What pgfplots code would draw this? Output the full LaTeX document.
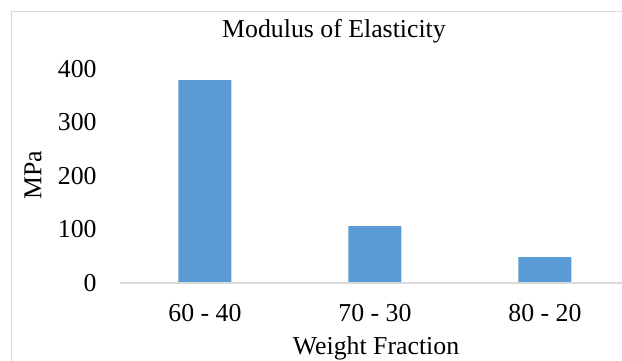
\documentclass[border=0pt]{standalone}
\usepackage{fontspec}
\setmainfont{Liberation Serif}
\usepackage{pgfplots}
\pgfplotsset{compat=1.18}
\definecolor{barblue}{HTML}{5B9BD5}
\definecolor{gridgray}{HTML}{D9D9D9}
\newcommand{\chartfont}{\fontsize{12.9}{15}\selectfont}
\begin{document}
\chartfont
\begin{tikzpicture}
  \useasboundingbox (0,0) rectangle (311pt,180pt);
  \clip (0,0) rectangle (311pt,180pt);
  % chart frame
  \draw[gridgray, line width=0.5pt] (5.75pt,174.25pt) rectangle (330pt,-20pt);
  \begin{axis}[
    at={(60pt,38.5pt)}, anchor=south west,
    scale only axis, width=255pt, height=107pt,
    xmin=-0.5, xmax=2.5, ymin=0, ymax=400,
    axis line style={draw=none},
    axis x line*=bottom, axis y line*=left,
    xtick={0,1,2}, xticklabels={60 - 40, 70 - 30, 80 - 20},
    ytick={0,100,200,300,400},
    major tick length=0pt,
    /pgf/number format/assume math mode=true,
    yticklabel style={anchor=east, inner sep=0pt, xshift=-11.5pt},
    xticklabel style={anchor=base, inner sep=0pt, yshift=-19pt},
    ticklabel style={font=\chartfont},
    clip=false,
  ]
    \addplot[ybar, bar width=26.5pt, fill=barblue, draw=none]
      coordinates {(0,379) (1,106.5) (2,48.5)};
    \draw[gridgray, line width=0.6pt] (axis cs:-0.5,0) -- (axis cs:2.5,0);
  \end{axis}
  \node[anchor=base, inner sep=0pt] at (167pt,161.2pt) {Modulus of Elasticity};
  \node[rotate=90, inner sep=0pt] at (16.5pt,92.5pt) {MPa};
  \node[anchor=base, inner sep=0pt] at (188pt,3pt) {Weight Fraction};
\end{tikzpicture}
\end{document}
